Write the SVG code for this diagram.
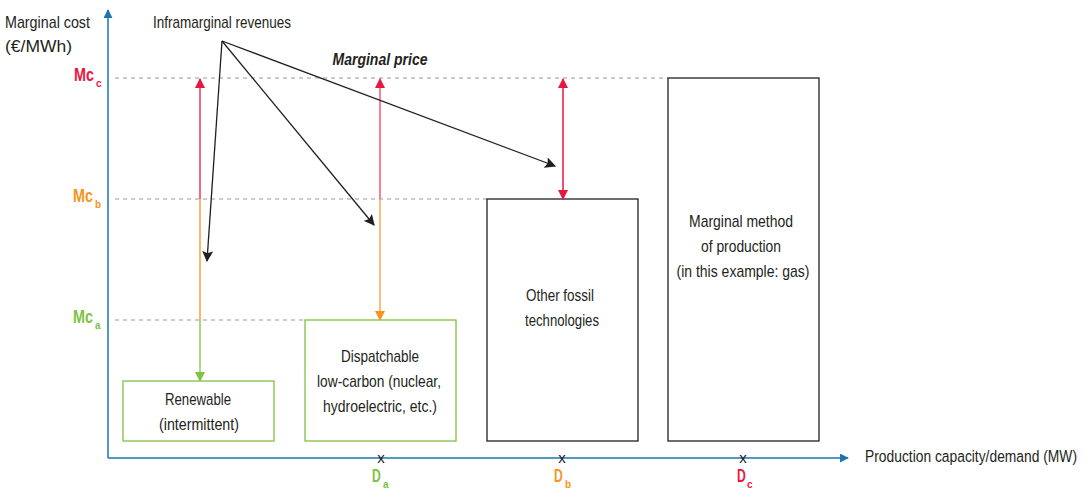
<svg xmlns="http://www.w3.org/2000/svg" width="1085" height="489" viewBox="0 0 1085 489">
<style>
text{font-family:"Liberation Sans",Arial,sans-serif;fill:#231f20}
.t{font-size:17px}
.c{text-anchor:middle}
.lab{font-size:19px;font-weight:bold}
.sub{font-size:10px;font-weight:bold}
.xm{font-size:15px}
.red{fill:#e8173f}.org{fill:#f7941d}.grn{fill:#7dc242}
.dash{stroke:#999;stroke-width:1;stroke-dasharray:4,4;fill:none}
.gbox{fill:#fff;stroke:#7dc242;stroke-width:1.3}
.kbox{fill:#fff;stroke:#231f20;stroke-width:1.3}
</style>
<defs>
<marker id="ab" viewBox="0 0 10 10" refX="9" refY="5" markerWidth="9" markerHeight="9" markerUnits="userSpaceOnUse" orient="auto"><path d="M0,0L10,5L0,10z" fill="#1a75b0"/></marker>
<marker id="ak" viewBox="0 0 10 10" refX="9" refY="5" markerWidth="11" markerHeight="11" markerUnits="userSpaceOnUse" orient="auto"><path d="M0,0L10,5L0,10L2,5z" fill="#231f20"/></marker>
<marker id="ar" viewBox="0 0 10 10" refX="9" refY="5" markerWidth="10" markerHeight="10" markerUnits="userSpaceOnUse" orient="auto"><path d="M0,0L10,5L0,10z" fill="#e8173f"/></marker>
<marker id="ao" viewBox="0 0 10 10" refX="9" refY="5" markerWidth="10" markerHeight="10" markerUnits="userSpaceOnUse" orient="auto"><path d="M0,0L10,5L0,10z" fill="#f7941d"/></marker>
<marker id="ag" viewBox="0 0 10 10" refX="9" refY="5" markerWidth="10" markerHeight="10" markerUnits="userSpaceOnUse" orient="auto"><path d="M0,0L10,5L0,10z" fill="#7dc242"/></marker>
</defs>

<g id="gridlines">
<line class="dash" x1="115" y1="78" x2="668" y2="78"/>
<line class="dash" x1="115" y1="199" x2="487" y2="199"/>
<line class="dash" x1="115" y1="320" x2="305" y2="320"/>
</g>

<g id="axes">
<line x1="108" y1="458" x2="108" y2="10" stroke="#1a75b0" stroke-width="1.5" marker-end="url(#ab)"/>
<line x1="108" y1="458" x2="848" y2="458" stroke="#1a75b0" stroke-width="1.5" marker-end="url(#ab)"/>
<text class="t" x="5" y="28" textLength="85" lengthAdjust="spacingAndGlyphs">Marginal cost</text>
<text class="t" x="5" y="52" textLength="67" lengthAdjust="spacingAndGlyphs">(€/MWh)</text>
<text class="t" transform="translate(865,462) scale(0.8,1)" textLength="265" lengthAdjust="spacingAndGlyphs">Production capacity/demand (MW)</text>
</g>

<g id="y-labels">
<text class="lab red" transform="translate(74,81) scale(0.8,1)" textLength="25" lengthAdjust="spacingAndGlyphs">Mc</text>
<text class="sub red" x="96" y="87">c</text>
<text class="lab org" transform="translate(73,202) scale(0.8,1)" textLength="25" lengthAdjust="spacingAndGlyphs">Mc</text>
<text class="sub org" x="95" y="208">b</text>
<text class="lab grn" transform="translate(73,323) scale(0.8,1)" textLength="25" lengthAdjust="spacingAndGlyphs">Mc</text>
<text class="sub grn" x="95" y="329">a</text>
</g>

<g id="x-labels">
<text class="xm c" x="381" y="463">x</text>
<text class="xm c" x="562" y="463">x</text>
<text class="xm c" x="743" y="463">x</text>
<text class="lab grn" transform="translate(372,482) scale(0.8,1)" textLength="11" lengthAdjust="spacingAndGlyphs">D</text>
<text class="sub grn" x="383" y="488">a</text>
<text class="lab org" transform="translate(554,482) scale(0.8,1)" textLength="11" lengthAdjust="spacingAndGlyphs">D</text>
<text class="sub org" x="565" y="488">b</text>
<text class="lab red" transform="translate(737,482) scale(0.8,1)" textLength="11" lengthAdjust="spacingAndGlyphs">D</text>
<text class="sub red" x="747" y="488">c</text>
</g>

<g id="node-renewable">
<rect class="gbox" x="123" y="381" width="151" height="60"/>
<text class="t c" x="198" y="405" textLength="66" lengthAdjust="spacingAndGlyphs">Renewable</text>
<text class="t c" x="199" y="430" textLength="80" lengthAdjust="spacingAndGlyphs">(intermittent)</text>
</g>

<g id="node-dispatchable">
<rect class="gbox" x="305" y="320" width="151" height="121"/>
<text class="t c" x="380" y="362" textLength="78" lengthAdjust="spacingAndGlyphs">Dispatchable</text>
<text class="t c" x="379" y="387" textLength="124" lengthAdjust="spacingAndGlyphs">low-carbon (nuclear,</text>
<text class="t c" x="380" y="412" textLength="114" lengthAdjust="spacingAndGlyphs">hydroelectric, etc.)</text>
</g>

<g id="node-fossil">
<rect class="kbox" x="487" y="199" width="151" height="242"/>
<text class="t c" x="560" y="301" textLength="68" lengthAdjust="spacingAndGlyphs">Other fossil</text>
<text class="t c" x="562" y="326" textLength="74" lengthAdjust="spacingAndGlyphs">technologies</text>
</g>

<g id="node-marginal">
<rect class="kbox" x="668" y="78" width="151" height="363"/>
<text class="t c" x="741" y="227" textLength="104" lengthAdjust="spacingAndGlyphs">Marginal method</text>
<text class="t c" x="741" y="252" textLength="80" lengthAdjust="spacingAndGlyphs">of production</text>
<text class="t c" x="743" y="277" textLength="133" lengthAdjust="spacingAndGlyphs">(in this example: gas)</text>
</g>

<g id="labels">
<text class="t c" x="222" y="28" textLength="138" lengthAdjust="spacingAndGlyphs">Inframarginal revenues</text>
<text class="t c" x="380" y="65" textLength="95" lengthAdjust="spacingAndGlyphs" style="font-weight:bold;font-style:italic">Marginal price</text>
</g>

<g id="connectors" fill="none">
<line x1="200" y1="199" x2="200" y2="79" stroke="#e8173f" stroke-width="1.3" marker-end="url(#ar)"/>
<line x1="200" y1="199" x2="200" y2="320" stroke="#f7941d" stroke-width="1.3"/>
<line x1="200" y1="320" x2="200" y2="381" stroke="#7dc242" stroke-width="1.3" marker-end="url(#ag)"/>
<line x1="380" y1="199" x2="380" y2="79" stroke="#ef5a73" stroke-width="1.5" marker-end="url(#ar)"/>
<line x1="380" y1="199" x2="380" y2="320" stroke="#f9a94b" stroke-width="1.5" marker-end="url(#ao)"/>
<line x1="563" y1="139" x2="563" y2="79" stroke="#e8173f" stroke-width="1.5" marker-end="url(#ar)"/>
<line x1="563" y1="139" x2="563" y2="199" stroke="#e8173f" stroke-width="1.5" marker-end="url(#ar)"/>
<line x1="222" y1="41" x2="207" y2="261" stroke="#231f20" stroke-width="1.3" marker-end="url(#ak)"/>
<line x1="222" y1="41" x2="374" y2="225" stroke="#231f20" stroke-width="1.3" marker-end="url(#ak)"/>
<line x1="222" y1="41" x2="555" y2="166" stroke="#231f20" stroke-width="1.3" marker-end="url(#ak)"/>
</g>
</svg>
